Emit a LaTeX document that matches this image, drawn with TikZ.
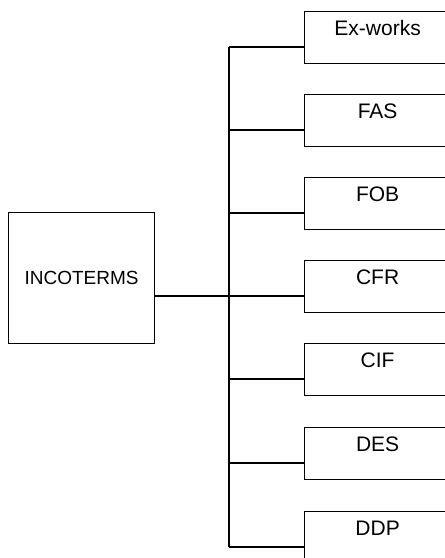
\documentclass[tikz,border=0pt]{standalone}
\usepackage{fontspec}
\setmainfont{Liberation Sans}
\begin{document}
\begin{tikzpicture}[x=1pt,y=1pt,
  line width=1.2pt,
  termbox/.style={draw,line width=1.2pt,minimum width=146pt,minimum height=52pt,inner sep=0pt,anchor=north west},
  lbl/.style={font=\fontsize{21}{25}\selectfont,anchor=center,inner sep=0pt}]
\useasboundingbox (0,0) rectangle (445,-558);
\clip (0,0) rectangle (445,-558);
\node[draw,line width=1.2pt,minimum width=146pt,minimum height=131pt,inner sep=0pt,anchor=north west,font=\fontsize{19}{23}\selectfont] (inc) at (8,-212) {INCOTERMS};
\foreach \i/\t/\txt in {1/11/Ex-works,2/94/FAS,3/177/FOB,4/260/CFR,5/343/CIF,6/427/DES,7/511/DDP}{
  \node[termbox,label={[lbl,yshift=-17pt]north:\txt}] (b\i) at (304,-\t) {};
  \coordinate (t\i) at (229,-\t-36);
}
\draw (t1) -- (t7);
\foreach \i in {1,...,7}{\draw (t\i) -- (t\i -| b\i.west);}
\draw (inc.east |- t4) -- (t4);
\end{tikzpicture}
\end{document}
